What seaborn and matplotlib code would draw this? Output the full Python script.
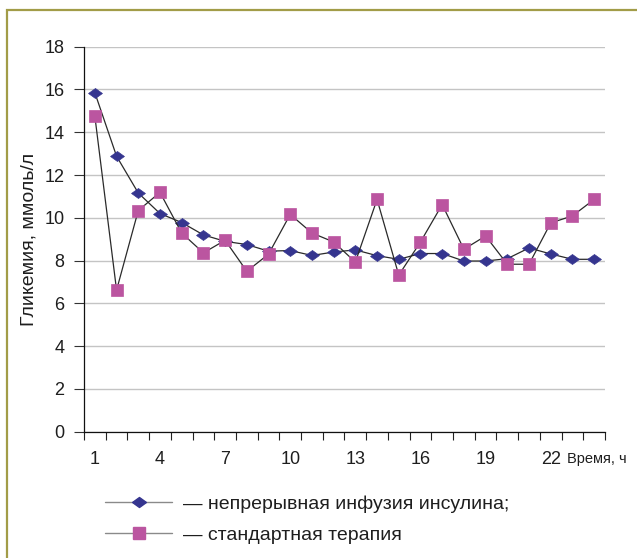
import numpy as np
import pandas as pd
import matplotlib
matplotlib.use('Agg')
import matplotlib.pyplot as plt
from matplotlib.lines import Line2D
from matplotlib.patches import Rectangle
from matplotlib.path import Path
import seaborn as sns

# hourly glycemia, mmol/l
hours = list(range(1, 25))
infusion = [15.85, 12.88, 11.16, 10.20, 9.78, 9.20, 8.90, 8.75, 8.44, 8.47, 8.24, 8.40,
            8.50, 8.23, 8.06, 8.33, 8.33, 7.98, 7.98, 8.09, 8.59, 8.31, 8.06, 8.06]
standard = [14.75, 6.62, 10.34, 11.19, 9.29, 8.36, 8.95, 7.50, 8.30, 10.16, 9.29, 8.87,
            7.93, 10.86, 7.32, 8.87, 10.62, 8.53, 9.15, 7.83, 7.83, 9.76, 10.09, 10.86]
x_labels = [1, 4, 7, 10, 13, 16, 19, 22]
y_ticks = list(range(0, 19, 2))
series_names = ['— непрерывная инфузия инсулина;', '— стандартная терапия']

navy = '#35358f'
pink = '#bb55a0'
text_col = '#1e1e1e'

sns.set_style('white')
plt.rcParams['font.family'] = ['Liberation Sans', 'DejaVu Sans']

df = pd.DataFrame({'hour': hours, 'infusion': infusion, 'standard': standard})

diamond = Path([(-1, 0), (0, 0.72), (1, 0), (0, -0.72), (-1, 0)], closed=True)

fig = plt.figure(figsize=(6.37, 5.58), dpi=100)
ax = fig.add_axes([84/637, 1 - 431.7/558, 521/637, 385/558])

sns.lineplot(data=df, x='hour', y='infusion', ax=ax, color='#2a2a2a', lw=0.9,
             marker=diamond, markersize=10, markerfacecolor=navy,
             markeredgecolor=navy, markeredgewidth=0.5, zorder=3)
sns.lineplot(data=df, x='hour', y='standard', ax=ax, color='#2a2a2a', lw=0.9,
             marker='s', markersize=9, markerfacecolor=pink,
             markeredgecolor=pink, markeredgewidth=0.5, zorder=4)

ax.set_xlim(0.5, 24.5)
ax.set_ylim(0, 18)
ax.set_xticks(x_labels)
ax.set_xticks(np.arange(0.5, 25, 1), minor=True)
ax.set_yticks(y_ticks)
ax.tick_params(axis='x', which='major', length=0, pad=14, labelsize=13, labelcolor=text_col)
ax.tick_params(axis='x', which='minor', length=5.5, width=0.8, direction='out',
               color='#222222', bottom=True)
ax.tick_params(axis='y', which='major', length=7.5, width=0.8, direction='out',
               pad=6.5, labelsize=13, labelcolor=text_col, color='#333333', left=True)

ax.grid(axis='y', color='#c4c4c4', lw=1)
ax.set_axisbelow(True)
for side in ['top', 'right']:
    ax.spines[side].set_visible(False)
for side in ['left', 'bottom']:
    ax.spines[side].set_color('#111111')
    ax.spines[side].set_linewidth(0.9)

ax.set_ylabel('Гликемия, ммоль/л', fontsize=14, color=text_col, labelpad=5)
ax.set_xlabel('Время, ч', fontsize=10.5, color=text_col)
ax.xaxis.set_label_coords(0.984, -0.052)

handles = [
    Line2D([], [], color='#8a8a8a', lw=1, marker=diamond, markersize=10,
           markerfacecolor=navy, markeredgecolor=navy),
    Line2D([], [], color='#8a8a8a', lw=1, marker='s', markersize=9,
           markerfacecolor=pink, markeredgecolor=pink),
]
fig.legend(handles, series_names, loc='upper left', bbox_to_anchor=(105/637, 1 - 495/558),
           frameon=False, handlelength=3.45, handletextpad=0.55, labelspacing=0.7,
           borderpad=0, borderaxespad=0, prop={'size': 14}, labelcolor=text_col)

# olive frame around the figure (runs off the right and bottom edges)
fig.patches.append(Rectangle((6.7/637, -0.2), 1.3, 1 - 10/558 + 0.2, transform=fig.transFigure,
                             fill=False, edgecolor='#a29c48', lw=1.6, clip_on=False))

fig.savefig('out.png', dpi=100)
